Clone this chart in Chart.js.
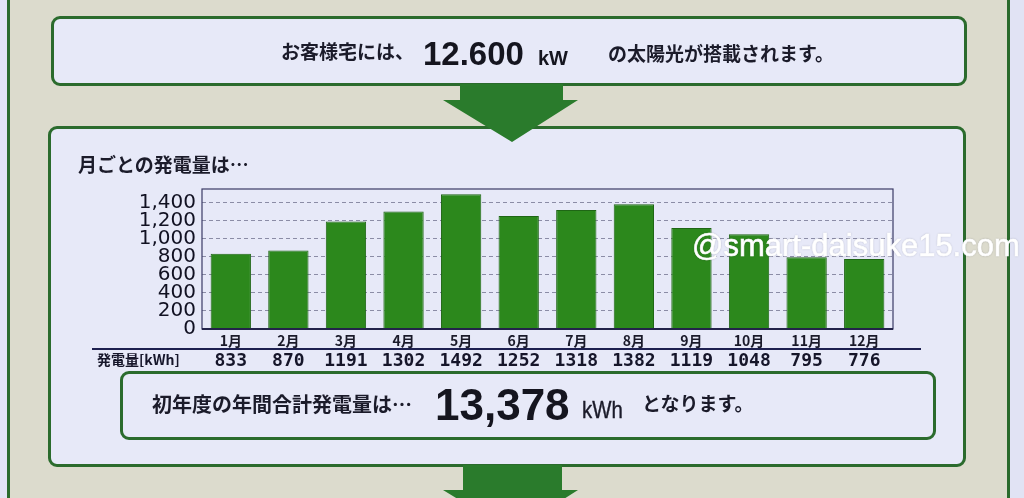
<!DOCTYPE html>
<html><head><meta charset="utf-8">
<script src="https://cdn.jsdelivr.net/npm/chart.js@4.4.0/dist/chart.umd.min.js"></script>
<style>
html,body{margin:0;padding:0;}
body{width:1024px;height:498px;overflow:hidden;position:relative;background:#e1e3f4;font-family:"Noto Sans CJK JP",sans-serif;color:#1b1b2a;}
#bg{position:absolute;left:7px;top:0;width:1003px;height:498px;background:#dcdbcd;border-left:3px solid #2a6a2c;border-right:3px solid #2a6a2c;box-sizing:border-box;}
.box{position:absolute;background:#e7e9f8;border:3.5px solid #2b6b2d;border-radius:9px;box-sizing:border-box;}
.t{position:absolute;white-space:nowrap;line-height:1;font-weight:bold;}
.num{font-family:"Liberation Sans",Arial,sans-serif;font-weight:bold;color:#15151f;}
#arrows{position:absolute;left:0;top:0;}
#c{position:absolute;left:0;top:0;}
#wm{font-family:"Liberation Sans",Arial,sans-serif;font-weight:normal;font-size:31px;color:#ffffff;-webkit-text-stroke:0.6px #ffffff;text-shadow:0 0 2px rgba(40,40,60,0.35);}
</style></head>
<body>
<div id="bg"></div>
<div class="box" style="left:51px;top:16px;width:916px;height:70px;"></div>
<div class="box" style="left:48px;top:126px;width:918px;height:341px;"></div>
<svg id="arrows" width="1024" height="498">
  <polygon points="460,84 563,84 563,100 578,100 512,142 443,100 460,100" fill="#2a7b2c"/>
  <polygon points="463,465 562,465 562,490 578,490 512,532 443,490 463,490" fill="#2a7b2c"/>
</svg>
<div class="box" style="left:120px;top:371px;width:816px;height:69px;"></div>
<canvas id="c" width="1024" height="498"></canvas>

<div class="t" style="left:281px;top:40.5px;font-size:19px;">お客様宅には、</div>
<div class="t num" style="left:423px;top:37px;font-size:33px;">12.600</div>
<div class="t num" style="left:538px;top:48px;font-size:20px;">kW</div>
<div class="t" style="left:608px;top:42.5px;font-size:19px;">の太陽光が搭載されます。</div>
<div class="t" style="left:78px;top:153.5px;font-size:19px;">月ごとの発電量は…</div>
<div class="t" style="left:152px;top:394px;font-size:20px;">初年度の年間合計発電量は…</div>
<div class="t num" style="left:435px;top:383px;font-size:44px;">13,378</div>
<div class="t" style="left:582px;top:398px;font-size:24px;font-weight:normal;font-family:'Liberation Sans',Arial,sans-serif;transform:scaleX(0.85);transform-origin:left top;-webkit-text-stroke:0.4px #1b1b2a;">kWh</div>
<div class="t" style="left:642px;top:392.5px;font-size:19px;">となります。</div>
<div class="t" id="wm" style="left:692px;top:230px;">@smart-daisuke15.com</div>

<script>
const months = ['1月','2月','3月','4月','5月','6月','7月','8月','9月','10月','11月','12月'];
const generation = [833, 870, 1191, 1302, 1492, 1252, 1318, 1382, 1119, 1048, 795, 776];
const yTicks = [0, 200, 400, 600, 800, 1000, 1200, 1400];
const yMax = 1550;
const tableLabel = '発電量[kWh]';

const framePlugin = {
  id: 'frame',
  afterDraw(chart) {
    const {ctx, chartArea: a, scales: {x}} = chart;
    ctx.save();
    ctx.strokeStyle = '#3b3b66';
    ctx.lineWidth = 1.2;
    ctx.strokeRect(a.left, a.top, a.right - a.left, a.bottom - a.top);
    ctx.lineWidth = 2;
    ctx.strokeStyle = '#23234a';
    ctx.beginPath();
    ctx.moveTo(a.left, a.bottom);
    ctx.lineTo(a.right, a.bottom);
    ctx.stroke();
    // table separator
    ctx.strokeStyle = '#1e2050';
    ctx.lineWidth = 2;
    ctx.beginPath();
    ctx.moveTo(92, 349);
    ctx.lineTo(921, 349);
    ctx.stroke();
    ctx.fillStyle = '#16162a';
    ctx.textBaseline = 'middle';
    ctx.textAlign = 'left';
    ctx.font = 'bold 14px "Noto Sans CJK JP"';
    ctx.fillText(tableLabel, 97, 360);
    ctx.textAlign = 'center';
    ctx.font = 'bold 18px "DejaVu Sans Mono"';
    generation.forEach((v, i) => {
      ctx.fillText(String(v), x.getPixelForValue(i), 361);
    });
    ctx.restore();
  }
};

new Chart(document.getElementById('c'), {
  type: 'bar',
  data: {
    labels: months,
    datasets: [{
      data: generation,
      backgroundColor: '#2c881c',
      borderColor: '#1f6615',
      borderWidth: 1,
      categoryPercentage: 0.7,
      barPercentage: 1.0
    }]
  },
  options: {
    responsive: false,
    animation: false,
    devicePixelRatio: 1,
    layout: {padding: {top: 189, left: 0, right: 131, bottom: 149}},
    plugins: {legend: {display: false}, tooltip: {enabled: false}},
    scales: {
      x: {
        grid: {display: false, drawTicks: false},
        border: {display: false},
        ticks: {color: '#1a1a2a', font: {family: 'Noto Sans CJK JP', size: 14, weight: 'bold'}, padding: 3, maxRotation: 0, autoSkip: false},
        afterFit: s => { s.height = 20; }
      },
      y: {
        min: 0, max: yMax,
        afterBuildTicks: s => { s.ticks = yTicks.map(v => ({value: v})); },
        grid: {color: '#8b8ca6', lineWidth: 1, drawTicks: false},
        border: {display: false, dash: [4, 3]},
        ticks: {autoSkip: false, padding: 6, color: '#111122', font: {family: 'DejaVu Sans', size: 20, lineHeight: 1},
          callback: v => v.toLocaleString('en-US')},
        afterFit: s => { s.width = 202; }
      }
    }
  },
  plugins: [framePlugin]
});
</script>
</body></html>
